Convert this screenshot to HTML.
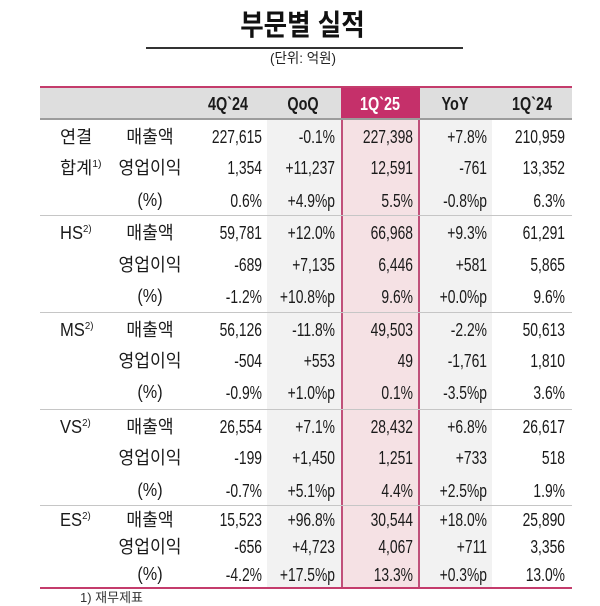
<!DOCTYPE html>
<html><head><meta charset="utf-8">
<style>
html,body{margin:0;padding:0;}
body{width:600px;height:595px;position:relative;overflow:hidden;background:#fff;color:#1a1a1a;font-family:"Liberation Sans","Noto Sans CJK KR",sans-serif;}
.a{position:absolute;}
.title{position:absolute;left:0;width:605px;top:12px;text-align:center;font-size:29px;line-height:29px;font-weight:bold;color:#111;transform:scaleX(0.88);transform-origin:302px 0;}
.sub{position:absolute;left:0;width:606px;top:50px;text-align:center;font-size:14px;line-height:16px;color:#222;transform:scaleX(0.96);transform-origin:303px 0;}
.n{position:absolute;width:120px;text-align:right;font-size:18px;line-height:20px;transform:scaleX(0.77);transform-origin:right center;white-space:nowrap;}
.c1{left:142px}.c2{left:215px}.c3{left:293px}.c4{left:367px}.c5{left:445px}
.h{position:absolute;width:120px;text-align:center;font-size:18px;line-height:20px;font-weight:bold;top:94px;transform:scaleX(0.8);transform-origin:center center;white-space:nowrap;}
.k{position:absolute;left:90px;width:120px;text-align:center;font-size:18px;line-height:20px;transform:scaleX(0.95);transform-origin:center center;white-space:nowrap;}
.p{position:absolute;left:90px;width:120px;text-align:center;font-size:18px;line-height:20px;transform:scaleX(0.9);transform-origin:center center;}
.l{position:absolute;left:60px;font-size:17.5px;line-height:20px;white-space:nowrap;}
.lat{display:inline-block;font-size:18px;transform:scaleX(0.92);transform-origin:left center;}
.sup{font-size:10.5px;position:relative;top:-7px;}
.sep{position:absolute;left:40px;width:532px;height:1px;background:#c6c6c6;}
</style></head><body>

<div class="title">부문별 실적</div>
<div class="a" style="left:146px;top:47px;width:317px;height:1.5px;background:#333;"></div>
<div class="sub">(단위: 억원)</div>

<div class="a" style="left:40px;top:88px;width:532px;height:30px;background:#dedede;"></div>
<div class="a" style="left:267px;top:120px;width:74px;height:467px;background:#f2f2f2;"></div>
<div class="a" style="left:420px;top:120px;width:72px;height:467px;background:#f2f2f2;"></div>
<div class="a" style="left:341px;top:118px;width:75px;height:469px;background:#f5e1e4;border-left:2px solid #c0507a;border-right:2px solid #c0507a;"></div>
<div class="a" style="left:341px;top:87px;width:79px;height:31px;background:#c5306a;"></div>
<div class="a" style="left:40px;top:86px;width:532px;height:2px;background:#c43c6c;"></div>
<div class="a" style="left:40px;top:118px;width:532px;height:2px;background:#9c9c9c;"></div>

<div class="sep" style="top:215px"></div>
<div class="sep" style="top:312px"></div>
<div class="sep" style="top:409px"></div>
<div class="sep" style="top:505px"></div>
<div class="a" style="left:40px;top:587px;width:532px;height:2px;background:#c43c6c;"></div>

<div class="h" style="left:168px">4Q`24</div>
<div class="h" style="left:243px">QoQ</div>
<div class="h" style="left:320px;color:#fff">1Q`25</div>
<div class="h" style="left:395px">YoY</div>
<div class="h" style="left:472px">1Q`24</div>

<div class="l" style="top:127px">연결</div>
<div class="l" style="top:158px">합계<span class="sup">1)</span></div>
<div class="l" style="top:223px"><span class="lat">HS<span class="sup">2)</span></span></div>
<div class="l" style="top:320px"><span class="lat">MS<span class="sup">2)</span></span></div>
<div class="l" style="top:417px"><span class="lat">VS<span class="sup">2)</span></span></div>
<div class="l" style="top:510px"><span class="lat">ES<span class="sup">2)</span></span></div>

<div class="k" style="top:127px">매출액</div>
<div class="k" style="top:158px">영업이익</div>
<div class="p" style="top:190px">(%)</div>
<div class="k" style="top:223px">매출액</div>
<div class="k" style="top:255px">영업이익</div>
<div class="p" style="top:286px">(%)</div>
<div class="k" style="top:320px">매출액</div>
<div class="k" style="top:351px">영업이익</div>
<div class="p" style="top:382px">(%)</div>
<div class="k" style="top:417px">매출액</div>
<div class="k" style="top:448px">영업이익</div>
<div class="p" style="top:480px">(%)</div>
<div class="k" style="top:510px">매출액</div>
<div class="k" style="top:537px">영업이익</div>
<div class="p" style="top:564px">(%)</div>

<div class="n c1" style="top:127px">227,615</div><div class="n c2" style="top:127px">-0.1%</div><div class="n c3" style="top:127px">227,398</div><div class="n c4" style="top:127px">+7.8%</div><div class="n c5" style="top:127px">210,959</div>
<div class="n c1" style="top:158px">1,354</div><div class="n c2" style="top:158px">+11,237</div><div class="n c3" style="top:158px">12,591</div><div class="n c4" style="top:158px">-761</div><div class="n c5" style="top:158px">13,352</div>
<div class="n c1" style="top:191px">0.6%</div><div class="n c2" style="top:191px">+4.9%p</div><div class="n c3" style="top:191px">5.5%</div><div class="n c4" style="top:191px">-0.8%p</div><div class="n c5" style="top:191px">6.3%</div>

<div class="n c1" style="top:223px">59,781</div><div class="n c2" style="top:223px">+12.0%</div><div class="n c3" style="top:223px">66,968</div><div class="n c4" style="top:223px">+9.3%</div><div class="n c5" style="top:223px">61,291</div>
<div class="n c1" style="top:255px">-689</div><div class="n c2" style="top:255px">+7,135</div><div class="n c3" style="top:255px">6,446</div><div class="n c4" style="top:255px">+581</div><div class="n c5" style="top:255px">5,865</div>
<div class="n c1" style="top:287px">-1.2%</div><div class="n c2" style="top:287px">+10.8%p</div><div class="n c3" style="top:287px">9.6%</div><div class="n c4" style="top:287px">+0.0%p</div><div class="n c5" style="top:287px">9.6%</div>

<div class="n c1" style="top:320px">56,126</div><div class="n c2" style="top:320px">-11.8%</div><div class="n c3" style="top:320px">49,503</div><div class="n c4" style="top:320px">-2.2%</div><div class="n c5" style="top:320px">50,613</div>
<div class="n c1" style="top:351px">-504</div><div class="n c2" style="top:351px">+553</div><div class="n c3" style="top:351px">49</div><div class="n c4" style="top:351px">-1,761</div><div class="n c5" style="top:351px">1,810</div>
<div class="n c1" style="top:383px">-0.9%</div><div class="n c2" style="top:383px">+1.0%p</div><div class="n c3" style="top:383px">0.1%</div><div class="n c4" style="top:383px">-3.5%p</div><div class="n c5" style="top:383px">3.6%</div>

<div class="n c1" style="top:417px">26,554</div><div class="n c2" style="top:417px">+7.1%</div><div class="n c3" style="top:417px">28,432</div><div class="n c4" style="top:417px">+6.8%</div><div class="n c5" style="top:417px">26,617</div>
<div class="n c1" style="top:448px">-199</div><div class="n c2" style="top:448px">+1,450</div><div class="n c3" style="top:448px">1,251</div><div class="n c4" style="top:448px">+733</div><div class="n c5" style="top:448px">518</div>
<div class="n c1" style="top:481px">-0.7%</div><div class="n c2" style="top:481px">+5.1%p</div><div class="n c3" style="top:481px">4.4%</div><div class="n c4" style="top:481px">+2.5%p</div><div class="n c5" style="top:481px">1.9%</div>

<div class="n c1" style="top:510px">15,523</div><div class="n c2" style="top:510px">+96.8%</div><div class="n c3" style="top:510px">30,544</div><div class="n c4" style="top:510px">+18.0%</div><div class="n c5" style="top:510px">25,890</div>
<div class="n c1" style="top:537px">-656</div><div class="n c2" style="top:537px">+4,723</div><div class="n c3" style="top:537px">4,067</div><div class="n c4" style="top:537px">+711</div><div class="n c5" style="top:537px">3,356</div>
<div class="n c1" style="top:565px">-4.2%</div><div class="n c2" style="top:565px">+17.5%p</div><div class="n c3" style="top:565px">13.3%</div><div class="n c4" style="top:565px">+0.3%p</div><div class="n c5" style="top:565px">13.0%</div>

<div class="a" style="left:80px;top:590px;font-size:13px;line-height:16px;color:#333;">1) 재무제표</div>

</body></html>
